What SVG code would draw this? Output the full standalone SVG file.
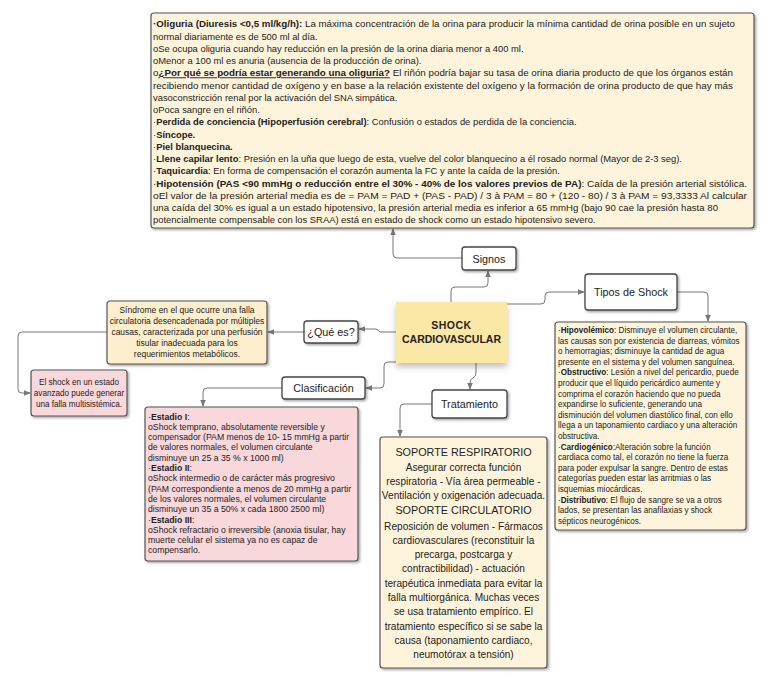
<svg xmlns="http://www.w3.org/2000/svg" width="768" height="684" viewBox="0 0 768 684">
<defs>
<style>
text{font-family:"Liberation Sans",Arial,sans-serif;fill:#222}
.b{font-weight:bold}
.u{text-decoration:underline}
.box{stroke:#555;stroke-width:1.2}
.cream{fill:#fef4dc}
.pink{fill:#f9d8db}
.lbl{fill:#fff;stroke:#444;stroke-width:1.3}
.lt{font-size:10.8px;text-anchor:middle}
.t9{font-size:9.4px}
.t8{font-size:8.15px}
.s8{font-size:8.5px}
.a9{font-size:8.7px}
.c{text-anchor:middle}
.conn path{fill:none;stroke:#777;stroke-width:1}
</style>
<marker id="ar" viewBox="0 0 8 8" refX="7" refY="4" markerWidth="7" markerHeight="7" markerUnits="userSpaceOnUse" orient="auto">
<path d="M0,0.8 L8,4 L0,7.2 Z" fill="#777"/>
</marker>
<filter id="sh" x="-5%" y="-5%" width="115%" height="120%">
<feDropShadow dx="1.5" dy="1.5" stdDeviation="0.8" flood-color="#000" flood-opacity="0.35"/>
</filter>
<filter id="shc" x="-20%" y="-20%" width="140%" height="160%">
<feDropShadow dx="0" dy="4" stdDeviation="3" flood-color="#000" flood-opacity="0.25"/>
</filter>
</defs>

<g class="conn">
<path d="M451,302 V291 Q451,287 455,287 H484 Q488,287 488,283 V271" marker-end="url(#ar)"/>
<path d="M462,258 H397 Q393,258 393,254 V229" marker-end="url(#ar)"/>
<path d="M507,304 H541 Q545,304 545,300 V296 Q545,292 549,292 H584" marker-end="url(#ar)"/>
<path d="M677,292 H704 Q708,292 708,296 V321" marker-end="url(#ar)"/>
<path d="M396,332 H380 Q378,329 375,329 H359" marker-end="url(#ar)"/>
<path d="M304,332 H268" marker-end="url(#ar)"/>
<path d="M107,332 H22 Q18,332 18,336 V389 Q18,393 22,393 H30" marker-end="url(#ar)"/>
<path d="M396,362 H388 Q384,362 384,366 V384 Q384,388 380,388 H366" marker-end="url(#ar)"/>
<path d="M282,388 H207 Q203,388 203,392 V406" marker-end="url(#ar)"/>
<path d="M476,363 V372 Q476,377 473,378 Q470,379 470,383 V389" marker-end="url(#ar)"/>
<path d="M432,404 H404 Q400,404 400,408 V436" marker-end="url(#ar)"/>
</g>

<g id="signos-detalle">
<rect x="151" y="13" width="603" height="215" rx="3" class="box cream" filter="url(#sh)"/>
<g class="t9">
<text x="153" y="27.3" textLength="582" lengthAdjust="spacingAndGlyphs"><tspan class="b">·Oliguria (Diuresis &lt;0,5 ml/kg/h):</tspan> La máxima concentración de la orina para producir la mínima cantidad de orina posible en un sujeto</text>
<text x="153" y="39.5">normal diariamente es de 500 ml al día.</text>
<text x="153" y="51.8">oSe ocupa oliguria cuando hay reducción en la presión de la orina diaria menor a 400 ml.</text>
<text x="153" y="64">oMenor a 100 ml es anuria (ausencia de la producción de orina).</text>
<text x="153" y="76.3" textLength="580" lengthAdjust="spacingAndGlyphs">o<tspan class="b u">¿Por qué se podría estar generando una oliguria?</tspan> El riñón podría bajar su tasa de orina diaria producto de que los órganos están</text>
<text x="153" y="88.5" textLength="580" lengthAdjust="spacingAndGlyphs">recibiendo menor cantidad de oxígeno y en base a la relación existente del oxígeno y la formación de orina producto de que hay más</text>
<text x="153" y="100.8">vasoconstricción renal por la activación del SNA simpática.</text>
<text x="153" y="113">oPoca sangre en el riñón.</text>
<text x="153" y="125.3">·<tspan class="b">Perdida de conciencia (Hipoperfusión cerebral)</tspan>: Confusión o estados de perdida de la conciencia.</text>
<text x="153" y="137.5">·<tspan class="b">Síncope.</tspan></text>
<text x="153" y="149.8">·<tspan class="b">Piel blanquecina.</tspan></text>
<text x="153" y="162">·<tspan class="b">Llene capilar lento</tspan>: Presión en la uña que luego de esta, vuelve del color blanquecino a él rosado normal (Mayor de 2-3 seg).</text>
<text x="153" y="174.3">·<tspan class="b">Taquicardia</tspan>: En forma de compensación el corazón aumenta la FC y ante la caída de la presión.</text>
<text x="153" y="186.5" textLength="594" lengthAdjust="spacingAndGlyphs">·<tspan class="b">Hipotensión (PAS &lt;90 mmHg o reducción entre el 30% - 40% de los valores previos de PA)</tspan>: Caída de la presión arterial sistólica.</text>
<text x="153" y="198.8" textLength="594" lengthAdjust="spacingAndGlyphs">oEl valor de la presión arterial media es de = PAM = PAD + (PAS - PAD) / 3 à PAM = 80 + (120 - 80) / 3 à PAM = 93,3333 Al calcular</text>
<text x="153" y="211" textLength="565" lengthAdjust="spacingAndGlyphs">una caída del 30% es igual a un estado hipotensivo, la presión arterial media es inferior a 65 mmHg (bajo 90 cae la presión hasta 80</text>
<text x="153" y="223.3">potencialmente compensable con los SRAA) está en estado de shock como un estado hipotensivo severo.</text>
</g>
</g>

<g id="signos">
<rect x="462" y="247" width="54" height="23" rx="3" class="lbl" filter="url(#sh)"/>
<text x="489" y="262.5" class="lt">Signos</text>
</g>

<g id="tipos">
<rect x="585" y="274" width="92" height="36" rx="3" class="lbl" filter="url(#sh)"/>
<text x="631" y="295.5" class="lt">Tipos de Shock</text>
</g>

<g id="tipos-detalle">
<rect x="555" y="322" width="191" height="208" rx="3" class="box cream" filter="url(#sh)"/>
<g class="t8">
<text x="558" y="333">·<tspan class="b">Hipovolémico</tspan>: Disminuye el volumen circulante,</text>
<text x="558" y="343.6">las causas son por existencia de diarreas, vómitos</text>
<text x="558" y="354.2">o hemorragias; disminuye la cantidad de agua</text>
<text x="558" y="364.8">presente en el sistema y del volumen sanguínea.</text>
<text x="558" y="375.4">·<tspan class="b">Obstructivo</tspan>: Lesión a nivel del pericardio, puede</text>
<text x="558" y="386">producir que el líquido pericárdico aumente y</text>
<text x="558" y="396.6">comprima el corazón haciendo que no pueda</text>
<text x="558" y="407.2">expandirse lo suficiente, generando una</text>
<text x="558" y="417.8">disminución del volumen diastólico final, con ello</text>
<text x="558" y="428.4">llega a un taponamiento cardiaco y una alteración</text>
<text x="558" y="439">obstructiva.</text>
<text x="558" y="449.6">·<tspan class="b">Cardiogénico</tspan>:Alteración sobre la función</text>
<text x="558" y="460.2">cardiaca como tal, el corazón no tiene la fuerza</text>
<text x="558" y="470.8">para poder expulsar la sangre. Dentro de estas</text>
<text x="558" y="481.4">categorías pueden estar las arritmias o las</text>
<text x="558" y="492">isquemias miocárdicas.</text>
<text x="558" y="502.6">·<tspan class="b">Distributivo</tspan>: El flujo de sangre se va a otros</text>
<text x="558" y="513.2">lados, se presentan las anafilaxias y shock</text>
<text x="558" y="523.8">sépticos neurogénicos.</text>
</g>
</g>

<g id="centro">
<rect x="396" y="302" width="111" height="61" fill="#fbe8a6" filter="url(#shc)"/>
<text x="451.5" y="329" class="b c" style="font-size:10.5px;letter-spacing:0.5px">SHOCK</text>
<text x="451.5" y="343" class="b c" style="font-size:10.5px">CARDIOVASCULAR</text>
</g>

<g id="que-es">
<rect x="304" y="321" width="54" height="22" rx="3" class="lbl" filter="url(#sh)"/>
<text x="331" y="335.8" class="lt">¿Qué es?</text>
</g>

<g id="definicion">
<rect x="107" y="301" width="160" height="63" rx="3" class="box" fill="#fdefcd" filter="url(#sh)"/>
<g class="s8 c">
<text x="187" y="313">Síndrome en el que ocurre una falla</text>
<text x="187" y="324">circulatoria desencadenada por  múltiples</text>
<text x="187" y="335">causas, caracterizada por  una perfusión</text>
<text x="187" y="346">tisular inadecuada para  los</text>
<text x="187" y="357">requerimientos metabólicos.</text>
</g>
</g>

<g id="falla">
<rect x="31" y="370" width="96" height="46" rx="3" class="box pink" filter="url(#sh)"/>
<g class="t8 c">
<text x="79" y="385">El shock en un estado</text>
<text x="79" y="396">avanzado puede  generar</text>
<text x="79" y="407">una falla multisistémica.</text>
</g>
</g>

<g id="clasificacion">
<rect x="282" y="377" width="83" height="22" rx="3" class="lbl" filter="url(#sh)"/>
<text x="323.5" y="391.8" class="lt">Clasificación</text>
</g>

<g id="estadios">
<rect x="145" y="407" width="213" height="154" rx="3" class="box pink" filter="url(#sh)"/>
<g class="a9">
<text x="148" y="419.5">·<tspan class="b">Estadio I</tspan>:</text>
<text x="148" y="429.8">oShock temprano, absolutamente reversible y</text>
<text x="148" y="440.1">compensador (PAM menos de 10- 15 mmHg a partir</text>
<text x="148" y="450.4">de valores normales, el volumen circulante</text>
<text x="148" y="460.7">disminuye un 25 a 35 % x 1000 ml)</text>
<text x="148" y="471">·<tspan class="b">Estadio II</tspan>:</text>
<text x="148" y="481.3">oShock intermedio o de carácter más progresivo</text>
<text x="148" y="491.6">(PAM correspondiente a menos de 20 mmHg a partir</text>
<text x="148" y="501.9">de los valores normales, el volumen circulante</text>
<text x="148" y="512.2">disminuye un 35 a 50% x cada 1800 2500 ml)</text>
<text x="148" y="522.5">·<tspan class="b">Estadio III</tspan>:</text>
<text x="148" y="532.8">oShock refractario o irreversible (anoxia tisular, hay</text>
<text x="148" y="543.1">muerte celular el sistema ya no es capaz de</text>
<text x="148" y="553.4">compensarlo.</text>
</g>
</g>

<g id="tratamiento">
<rect x="432" y="390" width="75" height="28" rx="3" class="lbl" filter="url(#sh)"/>
<text x="469.5" y="407.8" class="lt">Tratamiento</text>
</g>

<g id="soporte">
<rect x="380" y="437" width="167" height="231" rx="3" class="box cream" filter="url(#sh)"/>
<g class="c" style="font-size:10.1px">
<text x="463.5" y="455.5" style="font-size:10.8px">SOPORTE RESPIRATORIO</text>
<text x="463.5" y="470.5">Asegurar correcta función</text>
<text x="463.5" y="484.8">respiratoria - Vía área permeable -</text>
<text x="463.5" y="499">Ventilación y oxigenación adecuada.</text>
<text x="463.5" y="513.5" style="font-size:10.8px">SOPORTE CIRCULATORIO</text>
<text x="463.5" y="529.5">Reposición de volumen - Fármacos</text>
<text x="463.5" y="543.8">cardiovasculares (reconstituir la</text>
<text x="463.5" y="558.1">precarga, postcarga y</text>
<text x="463.5" y="572.4">contractibilidad) - actuación</text>
<text x="463.5" y="586.7">terapéutica inmediata para evitar la</text>
<text x="463.5" y="601">falla multiorgánica. Muchas  veces</text>
<text x="463.5" y="615.3">se usa tratamiento empírico. El</text>
<text x="463.5" y="629.6">tratamiento específico si se sabe la</text>
<text x="463.5" y="643.9">causa (taponamiento cardiaco,</text>
<text x="463.5" y="658.2">neumotórax a tensión)</text>
</g>
</g>
</svg>
